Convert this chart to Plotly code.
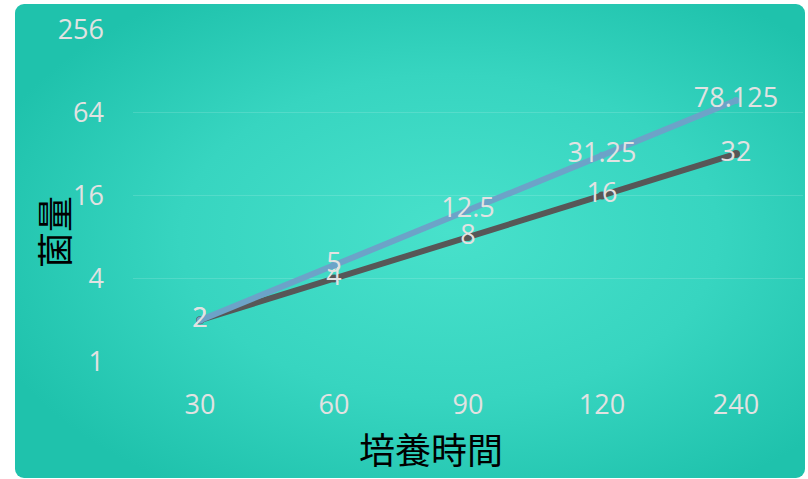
import base64
import plotly.graph_objects as go

categories = ["30", "60", "90", "120", "240"]
series_blue = [2, 5, 12.5, 31.25, 78.125]
series_gray = [2, 4, 8, 16, 32]
blue_labels = ["2", "5", "12.5", "31.25", "78.125"]
gray_labels = ["2", "4", "8", "16", "32"]
y_ticks = [1, 4, 16, 64, 256]

W, H = 808, 479
L, R, T, B = 133, 5, 29, 117
pw, ph = W - L - R, H - T - B

svg = f'''<svg xmlns="http://www.w3.org/2000/svg" width="790" height="474" viewBox="0 0 790 474">
<defs><radialGradient id="g" cx="55%" cy="50%" r="62%" fx="55%" fy="48%">
<stop offset="0%" stop-color="#48e1cb"/>
<stop offset="55%" stop-color="#37d5c0"/>
<stop offset="100%" stop-color="#1fc2ac"/>
</radialGradient></defs>
<rect x="0" y="0" width="790" height="474" rx="9" ry="9" fill="url(#g)"/>
</svg>'''
src = "data:image/svg+xml;base64," + base64.b64encode(svg.encode()).decode()

lab_font = dict(family="Open Sans, Lato, sans-serif", size=27, color="#e2e2e2")

fig = go.Figure()
fig.add_trace(go.Scatter(
    x=categories, y=series_gray, mode="lines+markers+text",
    line=dict(color="#575757", width=6), marker=dict(size=8, color="#575757"),
    text=gray_labels, textposition="middle center", textfont=lab_font,
    showlegend=False, cliponaxis=False))
fig.add_trace(go.Scatter(
    x=categories, y=series_blue, mode="lines+markers+text",
    line=dict(color="#6ca3c8", width=6), marker=dict(size=7, color="#6ca3c8"),
    text=blue_labels, textposition="middle center", textfont=lab_font,
    showlegend=False, cliponaxis=False))

fig.add_layout_image(dict(
    source=src, xref="paper", yref="paper",
    x=(15 - L) / pw, y=(H - B - 4) / ph,
    sizex=790 / pw, sizey=474 / ph,
    xanchor="left", yanchor="top", sizing="stretch", layer="below"))

tick_font = dict(family="Open Sans, Lato, sans-serif", size=27, color="#e2e2e2")
fig.update_layout(
    width=W, height=H,
    margin=dict(l=L, r=R, t=T, b=B, pad=0),
    paper_bgcolor="white", plot_bgcolor="rgba(0,0,0,0)",
    xaxis=dict(type="category", range=[-0.5, 4.5], showgrid=False, zeroline=False,
               showline=False, ticks="", tickfont=tick_font, ticklabelstandoff=24),
    yaxis=dict(type="log", range=[-0.002, 2.4102], tickvals=y_ticks,
               ticktext=[str(v) for v in y_ticks],
               showgrid=True, gridcolor="rgba(255,255,255,0.14)", gridwidth=1,
               zeroline=False, showline=False, ticks="", tickfont=tick_font,
               ticklabelstandoff=28),
    annotations=[
        dict(text="培養時間", xref="paper", yref="paper",
             x=(431 - L) / pw, y=(H - B - 448) / ph, showarrow=False,
             xanchor="center", yanchor="middle",
             font=dict(family="Noto Sans CJK JP", size=36, color="#000000")),
        dict(text="菌量", xref="paper", yref="paper",
             x=(53 - L) / pw, y=(H - B - 232) / ph, showarrow=False, textangle=-90,
             xanchor="center", yanchor="middle",
             font=dict(family="Noto Sans CJK JP", size=36, color="#000000")),
    ],
)

fig.write_html("out.html")
